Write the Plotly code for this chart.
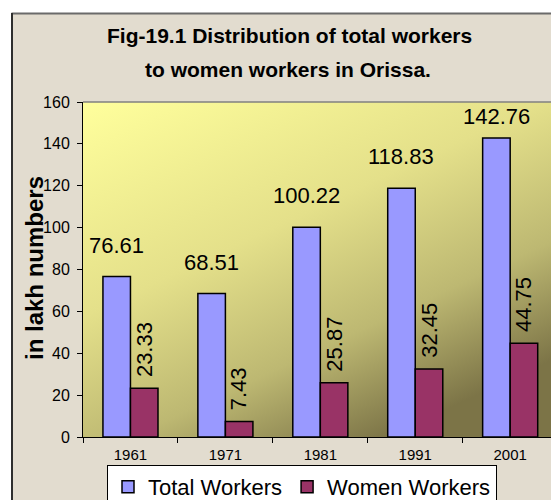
import base64
import plotly.graph_objects as go

years = ["1961", "1971", "1981", "1991", "2001"]
total_workers = [76.61, 68.51, 100.22, 118.83, 142.76]
women_workers = [23.33, 7.43, 25.87, 32.45, 44.75]
y_ticks = [0, 20, 40, 60, 80, 100, 120, 140, 160]
y_max = 160

W, H = 551, 500
ML, MR, MT, MB = 83, 0, 102, 63
PW, PH = W - ML - MR, H - MT - MB


def px_x(p):
    return (p - ML) / PW


def px_y(p):
    return (H - MB - p) / PH


svg = (
    '<svg xmlns="http://www.w3.org/2000/svg" width="468" height="335" preserveAspectRatio="none">'
    '<defs><linearGradient id="g" x1="0" y1="0" x2="0.65" y2="1">'
    '<stop offset="0" stop-color="#ffff9c"/>'
    '<stop offset="0.45" stop-color="#e4e08a"/>'
    '<stop offset="0.75" stop-color="#bdb872"/>'
    '<stop offset="1" stop-color="#7c7447"/>'
    '</linearGradient></defs>'
    '<rect width="468" height="335" fill="url(#g)"/></svg>'
)
svg_uri = "data:image/svg+xml;base64," + base64.b64encode(svg.encode()).decode()

FONT = "Liberation Sans, Arial"

fig = go.Figure()
fig.add_trace(go.Bar(
    name="Total Workers", x=years, y=total_workers,
    marker=dict(color="#9999ff", line=dict(color="#000000", width=1.5)),
))
fig.add_trace(go.Bar(
    name="Women Workers", x=years, y=women_workers,
    marker=dict(color="#993366", line=dict(color="#000000", width=1.5)),
))

ann = []
for i, v in enumerate(total_workers):
    # keep the label inside the plot area (as the original chart does)
    bar_top_from_top = PH - v / y_max * PH
    shift = min(17, bar_top_from_top - 29)
    ann.append(dict(x=i, y=v, xref="x", yref="y", text=f"{v:.2f}", showarrow=False,
                    xshift=-14, yshift=shift, yanchor="bottom", xanchor="center",
                    font=dict(family=FONT, size=22, color="#000")))
for i, v in enumerate(women_workers):
    ann.append(dict(x=i, y=v, xref="x", yref="y", text=f"{v:.2f}", showarrow=False,
                    xshift=14, yshift=9, yanchor="bottom", xanchor="center", textangle=-90,
                    font=dict(family=FONT, size=22, color="#000")))

ann.append(dict(x=px_x(289), y=px_y(35), xref="paper", yref="paper", showarrow=False,
                xanchor="center", yanchor="middle",
                text="<b>Fig-19.1 Distribution of total workers</b>",
                font=dict(family=FONT, size=21, color="#000")))
ann.append(dict(x=px_x(288), y=px_y(69), xref="paper", yref="paper", showarrow=False,
                xanchor="center", yanchor="middle",
                text="<b>to women workers in Orissa.</b>",
                font=dict(family=FONT, size=21, color="#000")))
ann.append(dict(x=px_x(34), y=px_y(268), xref="paper", yref="paper", showarrow=False,
                xanchor="center", yanchor="middle",
                text="<b>in lakh numbers</b>", textangle=-90,
                font=dict(family=FONT, size=24, color="#000")))

shapes = [
    dict(type="rect", xref="paper", yref="paper", x0=px_x(-5), x1=px_x(11), y0=px_y(505), y1=px_y(-5),
         fillcolor="#ffffff", line=dict(width=0), layer="below"),
    dict(type="rect", xref="paper", yref="paper", x0=px_x(-5), x1=px_x(556), y0=px_y(13), y1=px_y(-5),
         fillcolor="#ffffff", line=dict(width=0), layer="below"),
    dict(type="line", xref="paper", yref="paper", x0=px_x(11.5), x1=px_x(556), y0=px_y(13.5), y1=px_y(13.5),
         line=dict(color="#6a6a6a", width=2)),
    dict(type="line", xref="paper", yref="paper", x0=px_x(12), x1=px_x(12), y0=px_y(13), y1=px_y(505),
         line=dict(color="#2e2e2e", width=2)),
    dict(type="line", xref="paper", yref="paper", x0=0, x1=1, y0=1, y1=1,
         line=dict(color="#808080", width=1.5)),
]

fig.update_layout(
    width=W, height=H, autosize=False,
    margin=dict(l=ML, r=MR, t=MT, b=MB, autoexpand=False),
    paper_bgcolor="#e2dccf",
    plot_bgcolor="rgba(0,0,0,0)",
    barmode="group", bargap=0.42, bargroupgap=0,
    font=dict(family=FONT, color="#000"),
    annotations=ann,
    shapes=shapes,
    images=[dict(source=svg_uri, xref="paper", yref="paper", x=0, y=1, sizex=1, sizey=1,
                 sizing="stretch", xanchor="left", yanchor="top", layer="below")],
    showlegend=True,
    legend=dict(orientation="h", x=px_x(107), y=px_y(465), xanchor="left", yanchor="top",
                bgcolor="#ffffff", bordercolor="#000000", borderwidth=1,
                font=dict(family=FONT, size=22, color="#000"),
                traceorder="normal"),
    xaxis=dict(type="category", range=[-0.5, 4.43], showgrid=False, zeroline=False,
               showline=True, linecolor="#000", linewidth=1,
               ticks="outside", tickson="boundaries", ticklen=5, tickcolor="#000",
               ticklabelstandoff=4,
               tickfont=dict(family=FONT, size=15, color="#000")),
    yaxis=dict(range=[0, y_max], tickvals=y_ticks, showgrid=False, zeroline=False,
               showline=True, linecolor="#000", linewidth=1,
               ticks="outside", ticklen=5, tickcolor="#000", ticklabelstandoff=4,
               tickfont=dict(family=FONT, size=16, color="#000")),
)

fig.write_html("out.html", config={"responsive": False, "displayModeBar": False},
               post_script="document.body.style.margin='0';document.body.style.overflow='hidden';")
